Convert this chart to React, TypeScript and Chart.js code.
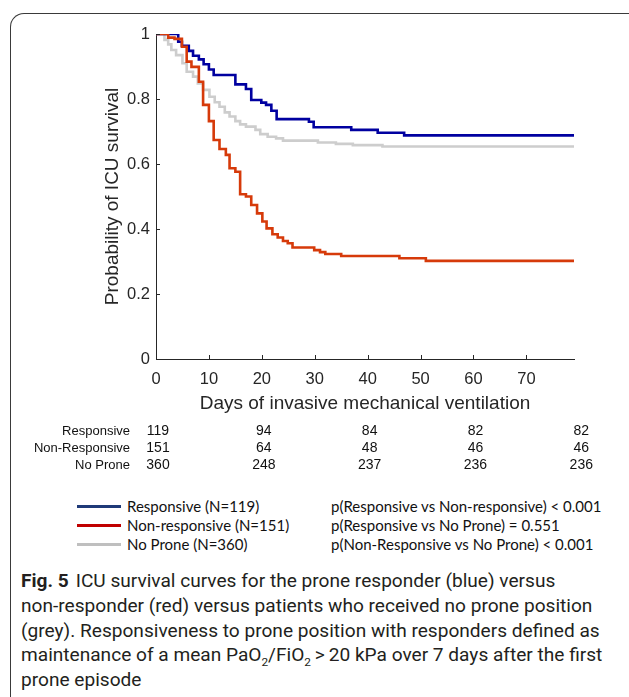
import React, { useEffect, useRef } from "react";
import { Chart, registerables } from "chart.js";

Chart.register(...registerables);

// ---- data ----
const responsiveDays = [0, 4.2, 4.9, 6.2, 7.0, 8.1, 9.0, 10.0, 10.9, 15.0, 17.0, 18.0, 19.9, 20.8, 21.8, 22.8, 28.9, 29.8, 36.9, 41.9, 46.9, 79];
const responsiveSurv = [1, 0.976, 0.964, 0.948, 0.933, 0.922, 0.907, 0.891, 0.874, 0.845, 0.831, 0.797, 0.789, 0.782, 0.764, 0.738, 0.73, 0.713, 0.705, 0.696, 0.688, 0.688];

const nonResponsiveDays = [0, 2.3, 3.5, 4.9, 5.8, 6.7, 8.1, 8.9, 10.0, 10.9, 12.0, 13.2, 13.9, 15.0, 15.9, 17.0, 18.0, 19.1, 20.1, 20.9, 22.0, 23.0, 24.0, 24.9, 25.8, 29.9, 31.0, 32.0, 35.0, 46.0, 51.0, 79];
const nonResponsiveSurv = [1, 0.989, 0.985, 0.961, 0.915, 0.899, 0.853, 0.782, 0.732, 0.674, 0.646, 0.628, 0.587, 0.576, 0.507, 0.5, 0.474, 0.448, 0.423, 0.402, 0.384, 0.374, 0.363, 0.356, 0.343, 0.335, 0.329, 0.323, 0.317, 0.31, 0.302, 0.302];

const noProneDays = [0, 1.6, 2.3, 2.9, 3.8, 5.0, 5.8, 7.0, 7.9, 8.9, 10.1, 11.1, 12.0, 13.0, 13.9, 15.0, 15.9, 17.0, 18.8, 19.7, 21.1, 22.7, 24.0, 30.6, 34.0, 37.2, 42.8, 79];
const noProneSurv = [1, 0.982, 0.968, 0.951, 0.935, 0.91, 0.884, 0.869, 0.848, 0.828, 0.807, 0.79, 0.776, 0.759, 0.746, 0.732, 0.722, 0.715, 0.705, 0.692, 0.684, 0.679, 0.672, 0.666, 0.662, 0.658, 0.654, 0.654];

const xTicks = [0, 10, 20, 30, 40, 50, 60, 70];
const yTicks = [0, 0.2, 0.4, 0.6, 0.8, 1];

const riskDays = [0, 20, 40, 60, 80];
const riskGroups = ["Responsive", "Non-Responsive", "No Prone"];
const riskResponsive = [119, 94, 84, 82, 82];
const riskNonResponsive = [151, 64, 48, 46, 46];
const riskNoProne = [360, 248, 237, 236, 236];

const legendLabels = ["Responsive (N=119)", "Non-responsive (N=151)", "No Prone (N=360)"];
const pValueLabels = [
  "p(Responsive vs Non-responsive) < 0.001",
  "p(Responsive vs No Prone) = 0.551",
  "p(Non-Responsive vs No Prone) < 0.001",
];

const curveColors = ["#0000a0", "#d63a0a", "#cdcdcd"];
const legendColors = ["#1f3a78", "#c00000", "#bfbfbf"];

const toPoints = (xs: number[], ys: number[]) => xs.map((x, i) => ({ x, y: ys[i] }));

const AXIS_FONT = '"Liberation Sans", Arial, sans-serif';

const extrasPlugin = {
  id: "extras",
  afterDraw(chart: any) {
    const { ctx, chartArea, scales } = chart;
    const x = scales.x;
    const y = scales.y;
    ctx.save();
    ctx.strokeStyle = "#262626";
    ctx.lineWidth = 1;
    for (const t of xTicks) {
      if (t === 0) continue;
      const px = Math.round(x.getPixelForValue(t)) + 0.5;
      ctx.beginPath();
      ctx.moveTo(px, chartArea.bottom);
      ctx.lineTo(px, chartArea.bottom - 4);
      ctx.stroke();
    }
    for (const t of yTicks) {
      if (t === 0) continue;
      const py = Math.round(y.getPixelForValue(t)) + 0.5;
      ctx.beginPath();
      ctx.moveTo(chartArea.left, py);
      ctx.lineTo(chartArea.left + 4, py);
      ctx.stroke();
    }
    // number at risk table
    const rows = [riskResponsive, riskNonResponsive, riskNoProne];
    ctx.fillStyle = "#111";
    ctx.textBaseline = "middle";
    rows.forEach((row, i) => {
      const ty = 431 + i * 17;
      ctx.font = '13px "Liberation Sans Narrow", "Liberation Sans", sans-serif';
      ctx.textAlign = "right";
      ctx.fillText(riskGroups[i], 130, ty);
      ctx.font = '14px "Liberation Sans Narrow", "Liberation Sans", sans-serif';
      ctx.textAlign = "center";
      riskDays.forEach((d, j) => {
        ctx.fillText(String(row[j]), x.getPixelForValue(d) + 2, ty);
      });
    });
    ctx.restore();
  },
};

function KMChart() {
  const ref = useRef<HTMLCanvasElement | null>(null);
  useEffect(() => {
    if (!ref.current) return;
    const mk = (label: string, xs: number[], ys: number[], color: string) => ({
      label,
      data: toPoints(xs, ys),
      borderColor: color,
      borderWidth: 2.6,
      stepped: "before",
      pointRadius: 0,
      fill: false,
    });
    const chart = new Chart(ref.current, {
      type: "line",
      data: {
        datasets: [
          mk("Non-responsive", nonResponsiveDays, nonResponsiveSurv, curveColors[1]),
          mk("Responsive", responsiveDays, responsiveSurv, curveColors[0]),
          mk("No Prone", noProneDays, noProneSurv, curveColors[2]),
        ],
      },
      options: {
        responsive: false,
        animation: false,
        devicePixelRatio: 1,
        layout: { padding: { left: 97, top: 34, right: 55, bottom: 61 } },
        plugins: { legend: { display: false }, tooltip: { enabled: false } },
        scales: {
          x: {
            type: "linear",
            min: 0,
            max: 79,
            afterBuildTicks: (s: any) => {
              s.ticks = xTicks.map((v) => ({ value: v }));
            },
            afterFit: (s: any) => {
              s.height = 60;
            },
            grid: { display: false, drawTicks: false },
            border: { display: true, color: "#262626", width: 1 },
            ticks: {
              padding: 11,
              color: "#262626",
              font: { family: AXIS_FONT, size: 16.5 },
              callback: (v: any) => String(v),
            },
            title: {
              display: true,
              text: "Days of invasive mechanical ventilation",
              color: "#262626",
              padding: 4,
              font: { family: AXIS_FONT, size: 19 },
            },
          },
          y: {
            type: "linear",
            min: 0,
            max: 1,
            afterBuildTicks: (s: any) => {
              s.ticks = yTicks.map((v) => ({ value: v }));
            },
            afterFit: (s: any) => {
              s.width = 59;
            },
            grid: { display: false, drawTicks: false },
            border: { display: true, color: "#262626", width: 1 },
            ticks: {
              padding: 6,
              color: "#262626",
              font: { family: AXIS_FONT, size: 16.5 },
              callback: (v: any) => String(v),
            },
            title: {
              display: true,
              text: "Probability of ICU survival",
              color: "#262626",
              padding: 4,
              font: { family: AXIS_FONT, size: 19 },
            },
          },
        },
      },
      plugins: [extrasPlugin],
    } as any);
    return () => chart.destroy();
  }, []);
  return (
    <canvas
      ref={ref}
      width={629}
      height={480}
      style={{ position: "absolute", left: 0, top: 0, width: 629, height: 480, display: "block" }}
    />
  );
}

const LEGEND_FONT = 'Lato, "Open Sans", sans-serif';
const CAPTION_FONT = 'Roboto, "Noto Sans", sans-serif';

export default function App() {
  const legendRowY = [506, 525, 544];
  const sub = { fontSize: "0.62em", lineHeight: 0 } as React.CSSProperties;
  const captionLines: React.ReactNode[] = [
    <>
      <b style={{ marginRight: 7 }}>Fig. 5</b>
      {"ICU survival curves for the prone responder (blue) versus"}
    </>,
    "non-responder (red) versus patients who received no prone position",
    "(grey). Responsiveness to prone position with responders defined as",
    <>
      {"maintenance of a mean PaO"}
      <sub style={sub}>2</sub>
      {"/FiO"}
      <sub style={sub}>2</sub>
      {"\u2009>\u200920 kPa over 7 days after the first"}
    </>,
    "prone episode",
  ];
  return (
    <div
      style={{
        position: "absolute",
        left: 0,
        top: 0,
        width: 629,
        height: 697,
        background: "#fff",
        overflow: "hidden",
      }}
    >
      <div
        style={{
          position: "absolute",
          left: 10,
          top: 13,
          width: 700,
          height: 720,
          borderTop: "1px solid #3a3a3a",
          borderLeft: "1px solid #3a3a3a",
          borderTopLeftRadius: 14,
        }}
      />
      <KMChart />
      {legendLabels.map((lab, i) => (
        <React.Fragment key={lab}>
          <div
            style={{
              position: "absolute",
              left: 77,
              top: legendRowY[i] - 1.5,
              width: 44,
              height: 3,
              background: legendColors[i],
            }}
          />
          <div
            style={{
              position: "absolute",
              left: 127,
              top: legendRowY[i] - 10,
              height: 20,
              lineHeight: "20px",
              fontFamily: LEGEND_FONT,
              fontSize: 15,
              color: "#111",
              whiteSpace: "nowrap",
            }}
          >
            {lab}
          </div>
          <div
            style={{
              position: "absolute",
              left: 331,
              top: legendRowY[i] - 10,
              height: 20,
              lineHeight: "20px",
              fontFamily: LEGEND_FONT,
              fontSize: 15,
              color: "#111",
              whiteSpace: "nowrap",
            }}
          >
            {pValueLabels[i]}
          </div>
        </React.Fragment>
      ))}
      {captionLines.map((line, i) => (
        <div
          key={i}
          style={{
            position: "absolute",
            left: 21,
            top: 581 - 12 + i * 24.8,
            height: 24,
            lineHeight: "24px",
            fontFamily: CAPTION_FONT,
            fontSize: 19.1,
            color: "#231f20",
            whiteSpace: "nowrap",
          }}
        >
          {line}
        </div>
      ))}
    </div>
  );
}
